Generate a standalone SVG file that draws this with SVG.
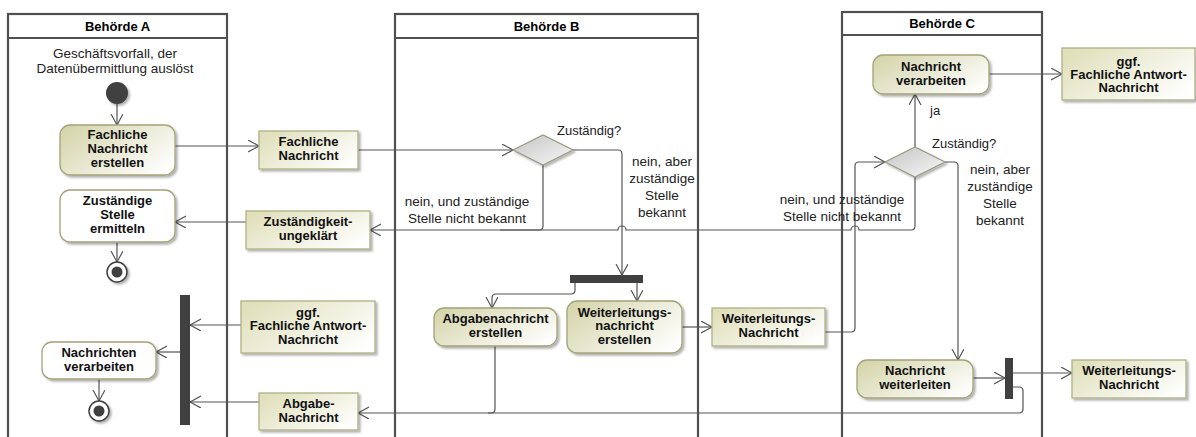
<svg xmlns="http://www.w3.org/2000/svg" width="1196" height="437" viewBox="0 0 1196 437">
<style>
.lane{fill:none;stroke:#505050;stroke-width:2.2}
.hd{font-family:"Liberation Sans",Arial,sans-serif;font-weight:bold;font-size:13px;fill:#000;text-anchor:middle}
.b{font-family:"Liberation Sans",Arial,sans-serif;font-weight:bold;font-size:13px;fill:#111;text-anchor:middle}
.l{font-family:"Liberation Sans",Arial,sans-serif;font-size:13.5px;fill:#222;text-anchor:middle}
.ls{font-family:"Liberation Sans",Arial,sans-serif;font-size:13px;fill:#222}
.act{fill:url(#ga);stroke:#a3a378;stroke-width:1.3;filter:url(#sh)}
.actw{fill:#fff;stroke:#a3a378;stroke-width:1.3;filter:url(#sh)}
.obj{fill:url(#go);stroke:#b0b084;stroke-width:1.3;filter:url(#sh)}
.dec{fill:url(#gd);stroke:#9a9a84;stroke-width:1.2;filter:url(#sh)}
.bar{fill:#404040}
.c{fill:none;stroke:#555;stroke-width:1.2;marker-end:url(#ah)}
.cn{fill:none;stroke:#555;stroke-width:1.2}
</style>
<defs>
<linearGradient id="ga" x1="0" y1="0.2" x2="1" y2="0.8"><stop offset="0" stop-color="#d6d6ae"/><stop offset="1" stop-color="#ffffff"/></linearGradient>
<linearGradient id="go" x1="0" y1="0.2" x2="1" y2="0.8"><stop offset="0" stop-color="#e0e0bc"/><stop offset="1" stop-color="#ffffff"/></linearGradient>
<linearGradient id="gd" x1="0" y1="0" x2="1" y2="1"><stop offset="0" stop-color="#c4c4c4"/><stop offset="1" stop-color="#f8f8f8"/></linearGradient>
<filter id="sh" x="-10%" y="-10%" width="130%" height="140%"><feDropShadow dx="2" dy="2" stdDeviation="0.8" flood-color="#000" flood-opacity="0.3"/></filter>
<marker id="ah" markerUnits="userSpaceOnUse" markerWidth="14" markerHeight="14" refX="11" refY="6" orient="auto"><path d="M0,0 L11,6 L0,12" fill="none" stroke="#555" stroke-width="1.2"/></marker>
</defs>

<g id="laneA"><rect class="lane" x="8" y="14" width="219" height="440"/><line class="lane" x1="8" y1="38" x2="227" y2="38"/><text class="hd" x="117.5" y="30.5">Behörde A</text></g>
<g id="laneB"><rect class="lane" x="395" y="14" width="303" height="440"/><line class="lane" x1="395" y1="38" x2="698" y2="38"/><text class="hd" x="546.5" y="30.5">Behörde B</text></g>
<g id="laneC"><rect class="lane" x="842" y="12" width="200" height="440"/><line class="lane" x1="842" y1="35" x2="1042" y2="35"/><text class="hd" x="942" y="28">Behörde C</text></g>

<g id="connectors">
<path class="c" d="M117,104 L117,125"/>
<path class="c" d="M175,146 L259,146"/>
<path class="c" d="M358,150 L513,150"/>
<path class="c" d="M117,242 L117,262"/>
<path class="c" d="M246,222 L175,222"/>
<path class="cn" d="M543,165 L543,226 Q543,230 539,230 L500,230"/>
<path class="c" d="M915,177 L915,226 Q915,230 911,230 L859,230 A4,4 0 0 0 851,230 L626,230 A4,4 0 0 0 618,230 L370,230"/>
<path class="c" d="M573,150 L618,150 Q622,150 622,154 L622,275"/>
<path class="c" d="M575,283 L575,290 Q575,294 571,294 L496,294 Q492,294 492,298 L492,308"/>
<path class="c" d="M637,283 L637,301"/>
<path class="c" d="M682,327 L712,327"/>
<path class="c" d="M825,332 L851,332 Q855,332 855,328 L855,166 Q855,162 859,162 L885,162"/>
<path class="c" d="M915,147 L915,94"/>
<path class="c" d="M989,74 L1062,74"/>
<path class="c" d="M945,162 L954,162 Q958,162 958,166 L958,360"/>
<path class="c" d="M973,378 L1005,378"/>
<path class="c" d="M1013,373 L1072,373"/>
<path class="cn" d="M1013,387 L1019,387 Q1023,387 1023,391 L1023,409 Q1023,413 1019,413 L488,413"/>
<path class="c" d="M495,346 L495,409 Q495,413 491,413 L358,413"/>
<path class="c" d="M241,325 L190,325"/>
<path class="c" d="M259,402 L190,402"/>
<path class="c" d="M180,352 L156,352"/>
<path class="c" d="M99,379 L99,401"/>
<text class="l" x="467" y="206">nein, und zuständige</text>
<text class="l" x="467" y="223">Stelle nicht bekannt</text>
<text class="l" x="662" y="166">nein, aber</text>
<text class="l" x="662" y="183">zuständige</text>
<text class="l" x="662" y="200">Stelle</text>
<text class="l" x="662" y="217">bekannt</text>
<text class="l" x="842" y="204">nein, und zuständige</text>
<text class="l" x="842" y="221">Stelle nicht bekannt</text>
<text class="l" x="1000" y="174">nein, aber</text>
<text class="l" x="1000" y="191">zuständige</text>
<text class="l" x="1000" y="208">Stelle</text>
<text class="l" x="1000" y="225">bekannt</text>
<text class="ls" x="930" y="115">ja</text>
</g>

<g id="startA"><text class="l" x="115" y="58">Geschäftsvorfall, der</text><text class="l" x="115" y="73">Datenübermittlung auslöst</text><circle cx="117" cy="93" r="11" fill="#404040" filter="url(#sh)"/></g>
<g id="fachlicheNachrichtErstellen"><rect class="act" x="60" y="125" width="115" height="50" rx="10"/><text class="b" x="117.5" y="139">Fachliche</text><text class="b" x="117.5" y="153">Nachricht</text><text class="b" x="117.5" y="167">erstellen</text></g>
<g id="zustStelleErmitteln"><rect class="actw" x="60" y="190" width="115" height="52" rx="10"/><text class="b" x="117.5" y="205">Zuständige</text><text class="b" x="117.5" y="219">Stelle</text><text class="b" x="117.5" y="233">ermitteln</text></g>
<g id="endA1"><circle cx="117" cy="272" r="10" fill="#fff" stroke="#404040" stroke-width="1.5" filter="url(#sh)"/><circle cx="117" cy="272" r="5.5" fill="#404040"/></g>
<g id="barA"><rect class="bar" x="180" y="295" width="10" height="130"/></g>
<g id="nachrichtenVerarbeiten"><rect class="actw" x="42" y="342" width="114" height="37" rx="10"/><text class="b" x="99" y="356.5">Nachrichten</text><text class="b" x="99" y="370.5">verarbeiten</text></g>
<g id="endA2"><circle cx="99" cy="411" r="10" fill="#fff" stroke="#404040" stroke-width="1.5" filter="url(#sh)"/><circle cx="99" cy="411" r="5.5" fill="#404040"/></g>

<g id="objFachlicheNachricht"><rect class="obj" x="259" y="131" width="99" height="38"/><text class="b" x="308.5" y="145.5">Fachliche</text><text class="b" x="308.5" y="159.5">Nachricht</text></g>
<g id="objZustUngeklaert"><rect class="obj" x="246" y="211" width="124" height="38"/><text class="b" x="308" y="225.5">Zuständigkeit-</text><text class="b" x="308" y="239.5">ungeklärt</text></g>
<g id="objAntwortA"><rect class="obj" x="241" y="301" width="134" height="52"/><text class="b" x="308" y="316.5">ggf.</text><text class="b" x="308" y="330">Fachliche Antwort-</text><text class="b" x="308" y="343.5">Nachricht</text></g>
<g id="objAbgabe"><rect class="obj" x="259" y="393" width="99" height="37"/><text class="b" x="308.5" y="407.5">Abgabe-</text><text class="b" x="308.5" y="421.5">Nachricht</text></g>

<g id="decB"><polygon class="dec" points="513,150 543,135 573,150 543,165"/><text class="ls" x="557" y="135">Zuständig?</text></g>
<g id="barB"><rect class="bar" x="570" y="275" width="73" height="8"/></g>
<g id="abgabeErstellen"><rect class="act" x="434" y="308" width="123" height="38" rx="10"/><text class="b" x="495.5" y="322.5">Abgabenachricht</text><text class="b" x="495.5" y="336.5">erstellen</text></g>
<g id="weiterleitungErstellen"><rect class="act" x="567" y="301" width="115" height="52" rx="10"/><text class="b" x="624.5" y="316.5">Weiterleitungs-</text><text class="b" x="624.5" y="330">nachricht</text><text class="b" x="624.5" y="343.5">erstellen</text></g>
<g id="objWeiterleitungB"><rect class="obj" x="712" y="308" width="113" height="38"/><text class="b" x="768.5" y="322.5">Weiterleitungs-</text><text class="b" x="768.5" y="336.5">Nachricht</text></g>

<g id="nachrichtVerarbeiten"><rect class="act" x="873" y="55" width="116" height="39" rx="10"/><text class="b" x="931" y="70.5">Nachricht</text><text class="b" x="931" y="84.5">verarbeiten</text></g>
<g id="objAntwortC"><rect class="obj" x="1062" y="48" width="133" height="52"/><text class="b" x="1128.5" y="65.5">ggf.</text><text class="b" x="1128.5" y="78.5">Fachliche Antwort-</text><text class="b" x="1128.5" y="91.5">Nachricht</text></g>
<g id="decC"><polygon class="dec" points="885,162 915,147 945,162 915,177"/><text class="ls" x="932" y="147.5">Zuständig?</text></g>
<g id="nachrichtWeiterleiten"><rect class="act" x="857" y="360" width="116" height="38" rx="10"/><text class="b" x="915" y="374.5">Nachricht</text><text class="b" x="915" y="388.5">weiterleiten</text></g>
<g id="barC"><rect class="bar" x="1005" y="358" width="8" height="41"/></g>
<g id="objWeiterleitungC"><rect class="obj" x="1072" y="360" width="114" height="38"/><text class="b" x="1129" y="374.5">Weiterleitungs-</text><text class="b" x="1129" y="388.5">Nachricht</text></g>
</svg>
